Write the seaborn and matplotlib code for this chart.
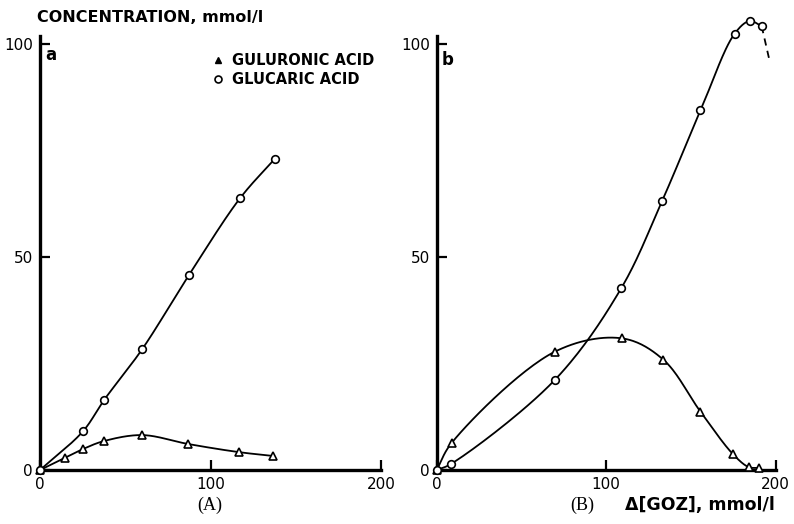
#!/usr/bin/env python3
"""Guluronic / glucaric acid concentration vs. consumed GOZ, panels A and B."""

import numpy as np
import pandas as pd
import seaborn as sns
import matplotlib.pyplot as plt
from matplotlib.lines import Line2D


# panel A (a)
A_GUL_X = [0, 14.7, 25, 37.5, 60, 87, 116.7, 136.7]
A_GUL_Y = [0, 2.9, 4.9, 6.8, 8.2, 6.1, 4.2, 3.3]
A_GLC_X = [0, 25.2, 37.5, 59.8, 87.4, 117.3, 137.8]
A_GLC_Y = [0, 9.1, 16.4, 28.3, 45.8, 63.8, 73.1]

# panel B (b)
B_GUL_X = [0, 8.9, 69.8, 109.5, 133.7, 155.6, 174.6, 184, 190]
B_GUL_Y = [0, 6.4, 27.8, 30.9, 25.9, 13.7, 3.8, 0.7, 0.5]
B_GLC_X = [0, 8.3, 69.8, 108.9, 133, 155.6, 175.7, 184.6, 191.7]
B_GLC_Y = [0, 1.4, 21.2, 42.7, 63.2, 84.4, 102.4, 105.4, 104.2]
B_GLC_DASH_X = [191.7, 196.4]
B_GLC_DASH_Y = [104.2, 96]

XTICKS = [0, 100, 200]
YTICKS = [0, 50, 100]


def smooth(x, y, n=30):
    """Centripetal Catmull-Rom curve through the points (drawing only)."""
    pts = np.column_stack([np.asarray(x, float) * 1.7, np.asarray(y, float) * 4.26])
    P = np.vstack([2 * pts[0] - pts[1], pts, 2 * pts[-1] - pts[-2]])
    out = []
    for i in range(1, len(P) - 2):
        p0, p1, p2, p3 = P[i - 1:i + 3]
        t0 = 0.0
        t1 = t0 + np.linalg.norm(p1 - p0) ** 0.5
        t2 = t1 + np.linalg.norm(p2 - p1) ** 0.5
        t3 = t2 + np.linalg.norm(p3 - p2) ** 0.5
        t = np.linspace(t1, t2, n, endpoint=False)[:, None]
        a1 = (t1 - t) / (t1 - t0) * p0 + (t - t0) / (t1 - t0) * p1
        a2 = (t2 - t) / (t2 - t1) * p1 + (t - t1) / (t2 - t1) * p2
        a3 = (t3 - t) / (t3 - t2) * p2 + (t - t2) / (t3 - t2) * p3
        b1 = (t2 - t) / (t2 - t0) * a1 + (t - t0) / (t2 - t0) * a2
        b2 = (t3 - t) / (t3 - t1) * a2 + (t - t1) / (t3 - t1) * a3
        out.append((t2 - t) / (t2 - t1) * b1 + (t - t1) / (t2 - t1) * b2)
    out.append(pts[-1:])
    c = np.vstack(out)
    return pd.DataFrame({"x": c[:, 0] / 1.7, "y": c[:, 1] / 4.26})


def draw_series(ax, x, y, marker, ms):
    sns.lineplot(data=smooth(x, y), x="x", y="y", sort=False, estimator=None,
                 color="black", lw=1.3, ax=ax)
    ax.plot(x, y, linestyle="none", marker=marker, ms=ms, mfc="white",
            mec="black", mew=1.2, zorder=3, clip_on=False)


def style_axes(ax):
    ax.set_xlim(0, 200)
    ax.set_ylim(0, 108)
    for s in ["top", "right"]:
        ax.spines[s].set_visible(False)
    ax.spines["left"].set_linewidth(2.4)
    ax.spines["bottom"].set_linewidth(2.4)
    ax.spines["left"].set_bounds(0, 102)
    ax.set_xticks(XTICKS)
    ax.set_yticks(YTICKS)
    ax.set_xticklabels([str(v) for v in XTICKS])
    ax.set_yticklabels([str(v) for v in YTICKS])
    ax.tick_params(direction="in", length=7, width=1.6, labelsize=11, pad=5,
                   colors="black")
    ax.set_xlabel("")
    ax.set_ylabel("")


def main():
    sns.set_theme(style="ticks", rc={"axes.edgecolor": "black", "text.color": "black",
                                     "xtick.color": "black", "ytick.color": "black"})
    plt.rcParams["font.family"] = ["DejaVu Sans"]

    fig = plt.figure(figsize=(7.94, 5.24), dpi=100)
    ax_a = fig.add_axes([0.0504, 0.103, 0.4295, 0.878])
    ax_b = fig.add_axes([0.550, 0.103, 0.427, 0.878])

    draw_series(ax_a, A_GUL_X, A_GUL_Y, "^", 6)
    draw_series(ax_a, A_GLC_X, A_GLC_Y, "o", 5.5)
    draw_series(ax_b, B_GUL_X, B_GUL_Y, "^", 6)
    draw_series(ax_b, B_GLC_X, B_GLC_Y, "o", 5.5)
    ax_b.plot(B_GLC_DASH_X, B_GLC_DASH_Y, color="black", lw=1.3, ls=(0, (4, 3)))

    style_axes(ax_a)
    style_axes(ax_b)

    ax_a.text(0.015, 0.902, "a", transform=ax_a.transAxes, fontsize=12,
              fontweight="bold", va="center")
    ax_b.text(0.015, 0.891, "b", transform=ax_b.transAxes, fontsize=12,
              fontweight="bold", va="center")

    handles = [
        Line2D([], [], ls="none", marker="^", ms=5, mfc="black", mec="black"),
        Line2D([], [], ls="none", marker="o", ms=5, mfc="white", mec="black", mew=1.2),
    ]
    ax_a.legend(handles, ["GULURONIC ACID", "GLUCARIC ACID"], loc="upper left",
                bbox_to_anchor=(0.465, 0.935), frameon=False, handlelength=0.8,
                handletextpad=0.6, labelspacing=0.3,
                prop={"size": 10.5, "weight": "bold"})

    fig.text(0.046, 0.966, "CONCENTRATION, mmol/l", fontsize=11.5, fontweight="bold",
             va="center")
    fig.text(0.264, 0.036, "(A)", fontsize=13, family="Liberation Serif",
             ha="center", va="center")
    fig.text(0.733, 0.036, "(B)", fontsize=13, family="Liberation Serif",
             ha="center", va="center")
    fig.text(0.787, 0.036, "Δ[GOZ], mmol/l", fontsize=12.5, fontweight="bold",
             va="center")

    fig.savefig("out.png", dpi=100)


if __name__ == "__main__":
    main()
